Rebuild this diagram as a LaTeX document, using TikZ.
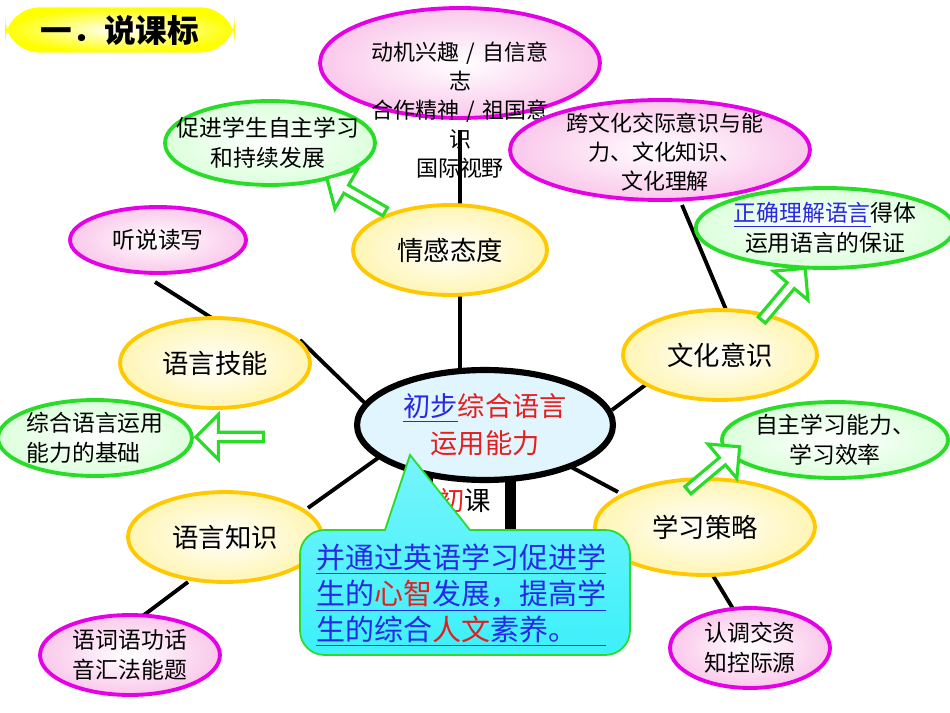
\documentclass[tikz,border=0pt]{standalone}
\usepackage{fontspec}
\setmainfont{Noto Sans CJK SC}
\usetikzlibrary{shapes.geometric,shapes.arrows}
\definecolor{pk}{RGB}{230,0,230}
\definecolor{pkf}{RGB}{250,200,235}
\definecolor{gn}{RGB}{40,220,40}
\definecolor{gnf}{RGB}{220,255,220}
\definecolor{yl}{RGB}{255,200,0}
\definecolor{ylf}{RGB}{255,245,180}
\definecolor{bl}{RGB}{40,40,230}
\definecolor{rd}{RGB}{230,30,30}
\definecolor{cy}{RGB}{60,240,250}
\tikzset{
 ell/.style={ellipse,inner sep=0pt,line width=2.2pt},
 pinkE/.style={ell,draw=pk,inner color=white,outer color=pkf},
 greenE/.style={ell,draw=gn,inner color=white,outer color=gnf},
 yellowE/.style={ell,draw=yl,inner color=white,outer color=ylf},
 main/.style={font=\fontsize{15}{19}\selectfont},
 sec/.style={font=\fontsize{13}{17}\selectfont,align=center},
 conn/.style={line width=2.2pt},
 harrow/.style={single arrow,draw=gn,fill=white,line width=1.8pt,minimum height=1.35cm,minimum width=0.9cm,single arrow head extend=0.12cm,inner sep=0pt},
}
\newcommand{\ellnode}[7]{\node[#6,minimum width=#4*0.04cm,minimum height=#5*0.04cm] (#1) at (#2,#3) {#7};}
\begin{document}
\begin{tikzpicture}[x=0.02cm,y=-0.02cm]
\useasboundingbox (0,0) rectangle (950,713);
% connectors under nodes
\draw[conn] (155,282) coordinate (c1) -- (215,320) coordinate (c2);
\draw[conn] (460,295) -- (460,372);
\draw[conn] (612,410) -- (648,383);
\draw[conn] (727,312) -- (682,205);
\draw[conn] (300,340) -- (372,410);
\draw[conn] (378,458) -- (308,508);
\draw[conn] (558,460) -- (618,492);
\draw[conn] (188,582) -- (140,618);
\draw[conn] (712,574) -- (735,612);
% title
\node[rounded corners=20pt,fill=yellow,inner color=white,outer color=yellow,minimum width=4.6cm,minimum height=0.9cm,font=\fontsize{18}{20}\selectfont\bfseries] (title) at (120,30) {一．说课标};
% top ellipse
\ellnode{top}{460}{63}{140}{55}{pinkE}{}
\node[font=\fontsize{12.5}{16.5}\selectfont,align=center,text width=4.6cm] (toptext) at (460,110) {动机兴趣 / 自信意\\志\\合作精神 / 祖国意\\识\\国际视野};
\draw[conn] (460,130) -- (460,210);
\ellnode{cult}{660}{150}{150}{50}{pinkE}{}
\node[sec,font=\fontsize{12.5}{16.5}\selectfont] (culttext) at (665,152) {跨文化交际意识与能\\力、文化知识、\\文化理解};
\ellnode{prom}{270}{143}{105}{42}{greenE}{}
\node[sec] (promtext) at (268,143) {促进学生自主学习\\和持续发展};
\ellnode{corr}{825}{228}{120}{40}{greenE,sec}{\textcolor{bl}{\underline{正确理解语言}}得体\\运用语言的保证}
\ellnode{tsdx}{158}{240}{88}{33}{pinkE,sec}{听说读写}
\ellnode{qg}{450}{250}{97}{45}{yellowE,main}{情感态度}
\ellnode{yyjn}{215}{363}{95}{45}{yellowE,main}{语言技能}
\ellnode{whys}{720}{355}{97}{45}{yellowE,main}{文化意识}
\ellnode{zhjc}{95}{438}{90}{38}{greenE,sec,align=left}{综合语言运用\\能力的基础}
\ellnode{zzxx}{835}{440}{107}{38}{greenE,sec}{自主学习能力、\\学习效率}
\ellnode{yyzs}{225}{537}{97}{45}{yellowE,main}{语言知识}
\ellnode{xxcl}{705}{527}{110}{48}{yellowE,main}{学习策略}
\ellnode{ycyg}{130}{655}{90}{40}{pinkE,sec}{语词语功话\\音汇法能题}
\ellnode{rdjz}{750}{648}{80}{40}{pinkE,sec}{认调交资\\知控际源}
% hollow arrows
\node[harrow,rotate=150] (a1) at (358,196) {};
\node[harrow,rotate=50] (a2) at (782,296) {};
\node[harrow,rotate=180] (a3) at (232,437) {};
\node[harrow,rotate=40] (a4) at (712,470) {};
% black box behind callout
\node[draw,line width=3pt,fill=white,minimum width=1.55cm,minimum height=2.4cm,anchor=north west] (box) at (428,450) {};
\draw[line width=6pt] (box.north east) -- (box.south east);
\node[main,anchor=west] (boxt) at (432,500) {\textcolor{rd}{初}课};
% center
\ellnode{center}{485}{425}{128}{55}{ell,draw=black,line width=3.5pt,fill=cyan!12,align=center,font=\fontsize{15.5}{21}\selectfont}{\textcolor{bl}{\underline{初步}}\textcolor{rd}{综合语言}\\\textcolor{rd}{运用能力}}
% callout
\draw[draw=gn,line width=1pt,top color=cy!70,bottom color=cy] [rounded corners=14pt] (460,655) -- (300,655) -- (300,530) [sharp corners] -- (385,530) -- (410,455) -- (470,530) [rounded corners=14pt] -- (630,530) -- (630,655) -- cycle;
\node[anchor=north west,align=left,font=\fontsize{16.5}{20.5}\selectfont,text=bl] (calltext) at (310,538) {\underline{并通过英语学习促进学}\\\underline{生的\textcolor{rd}{心智}发展，提高学}\\\underline{生的综合\textcolor{rd}{人文}素养。\quad}};
\end{tikzpicture}
\end{document}
